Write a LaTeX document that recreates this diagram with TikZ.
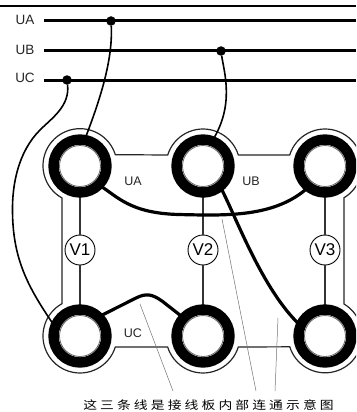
\documentclass[tikz,border=0pt]{standalone}
\usepackage{fontspec}
\setmainfont{Liberation Sans}
\newfontfamily\cjk[LetterSpace=27,FakeStretch=1.2]{Noto Sans CJK SC}
\tikzset{
  ring/.style={circle,draw=black,fill=white,line width=10.4pt,minimum size=53pt,inner sep=0pt,outer sep=0pt},
  innerring/.style={circle,draw=black!60,fill=white,line width=.8pt,minimum size=41pt,inner sep=0pt,outer sep=0pt},
  meter/.style={circle,draw=black,fill=white,line width=.9pt,minimum size=30pt,inner sep=0pt,outer sep=0pt,font=\fontsize{17}{17}\selectfont},
  tap/.style={circle,fill=black,minimum size=9.5pt,inner sep=0pt,outer sep=0pt},
  bus/.style={line width=3pt},
  thinwire/.style={line width=1.6pt},
  thickwire/.style={line width=3.2pt},
  lead/.style={line width=1.1pt,draw=black!80},
  note/.style={line width=.5pt,draw=black!55},
  lbl/.style={font=\fontsize{12.5}{12.5}\selectfont,text=black!85,inner sep=0pt},
  sidelbl/.style={font=\fontsize{13.5}{13.5}\selectfont,text=black!85,inner sep=0pt}
}
\begin{document}
\begin{tikzpicture}[x=1pt,y=-1pt]
\useasboundingbox (0,0) rectangle (356,412);
\clip (0,0) rectangle (356,412);
\fill[white] (0,0) rectangle (356,412);
% top rule
\coordinate (rL) at (0,6); \coordinate (rR) at (356,6);
\draw[line width=2pt] (rL) -- (rR);
% labels and bus lines
\node[sidelbl] (la) at (25,20) {UA};
\node[sidelbl] (lb) at (25,50) {UB};
\node[sidelbl] (lc) at (25,78) {UC};
\coordinate (aL) at (44,21); \coordinate (aR) at (356,21);
\coordinate (bL) at (44,51); \coordinate (bR) at (356,51);
\coordinate (cL) at (44,80); \coordinate (cR) at (356,80);
\draw[bus] (aL) -- (aR);
\draw[bus] (bL) -- (bR);
\draw[bus] (cL) -- (cR);
\node[tap] (da) at (111,21) {};
\node[tap] (db) at (221,51) {};
\node[tap] (dc) at (67,80) {};
% board outline
\draw[line width=1.2pt,draw=black!85] (62,304) -- (62,198)
  arc[start angle=119.1,end angle=342.7,radius=37] -- (167.7,155)
  arc[start angle=197.3,end angle=342.7,radius=37] -- (289.7,155)
  arc[start angle=197.3,end angle=419,radius=37] -- (344,304)
  arc[start angle=300.7,end angle=522.7,radius=37] -- (238.3,347)
  arc[start angle=17.3,end angle=162.7,radius=37] -- (115.3,347)
  arc[start angle=17.3,end angle=240.9,radius=37];
% terminals positions
\coordinate (p1) at (80,166); \coordinate (p2) at (203,166); \coordinate (p3) at (325,166);
\coordinate (p4) at (80,336); \coordinate (p5) at (203,336); \coordinate (p6) at (325,336);
% meters
\node[meter] (v1) at (80,250) {V1};
\node[meter] (v2) at (203,250) {V2};
\node[meter] (v3) at (325,250) {V3};
\draw[lead] (p1) -- (v1) -- (p4);
\draw[lead] (p2) -- (v2) -- (p5);
\draw[lead] (p3) -- (v3) -- (p6);
% terminals
\foreach \n/\p in {t1/p1,t2/p2,t3/p3,t4/p4,t5/p5,t6/p6}{
  \node[ring] (\n) at (\p) {};
  \node[innerring] (\n i) at (\p) {};
}
% note lines
\coordinate (capA) at (173,391); \coordinate (capB) at (256,391); \coordinate (capC) at (275,391);
\coordinate (nA) at (140,304); \coordinate (nB) at (222,219); \coordinate (nC) at (278,318);
\draw[note] (nA) -- (capA);
\draw[note] (nB) -- (capB);
\draw[note] (nC) -- (capC);
% supply wires
\draw[thinwire] (da) .. controls (113,60) and (100,100) .. (t1.80);
\draw[thinwire] (db) .. controls (224,72) and (235,105) .. (t2.70);
\draw[thinwire] (dc) .. controls (70,106) and (52,118) .. (40,130)
  .. controls (18,152) and (12,185) .. (12.5,212)
  .. controls (13,262) and (30,290) .. (t4.160);
% internal links
\draw[thickwire] (t1.-45) .. controls (118,197) and (130,213) .. (178,214.5)
  .. controls (225,215.5) and (275,218) .. (t3.232);
\draw[thickwire] (t2.-50) .. controls (235,214) and (262,290) .. (t6.157);
\draw[thickwire] (t4.46) -- (136,298) .. controls (146,293) and (152,294) .. (162,301)
  -- (t5.137);
% labels
\node[lbl] (ua) at (133,181) {UA};
\node[lbl] (ub) at (251,181) {UB};
\node[lbl] (uc) at (133,333) {UC};
\node[inner sep=0pt,text=black] (cap) at (208.5,405.5) {\cjk\fontsize{11.5}{11.5}\selectfont 这三条线是接线板内部连通示意图};
\end{tikzpicture}
\end{document}
